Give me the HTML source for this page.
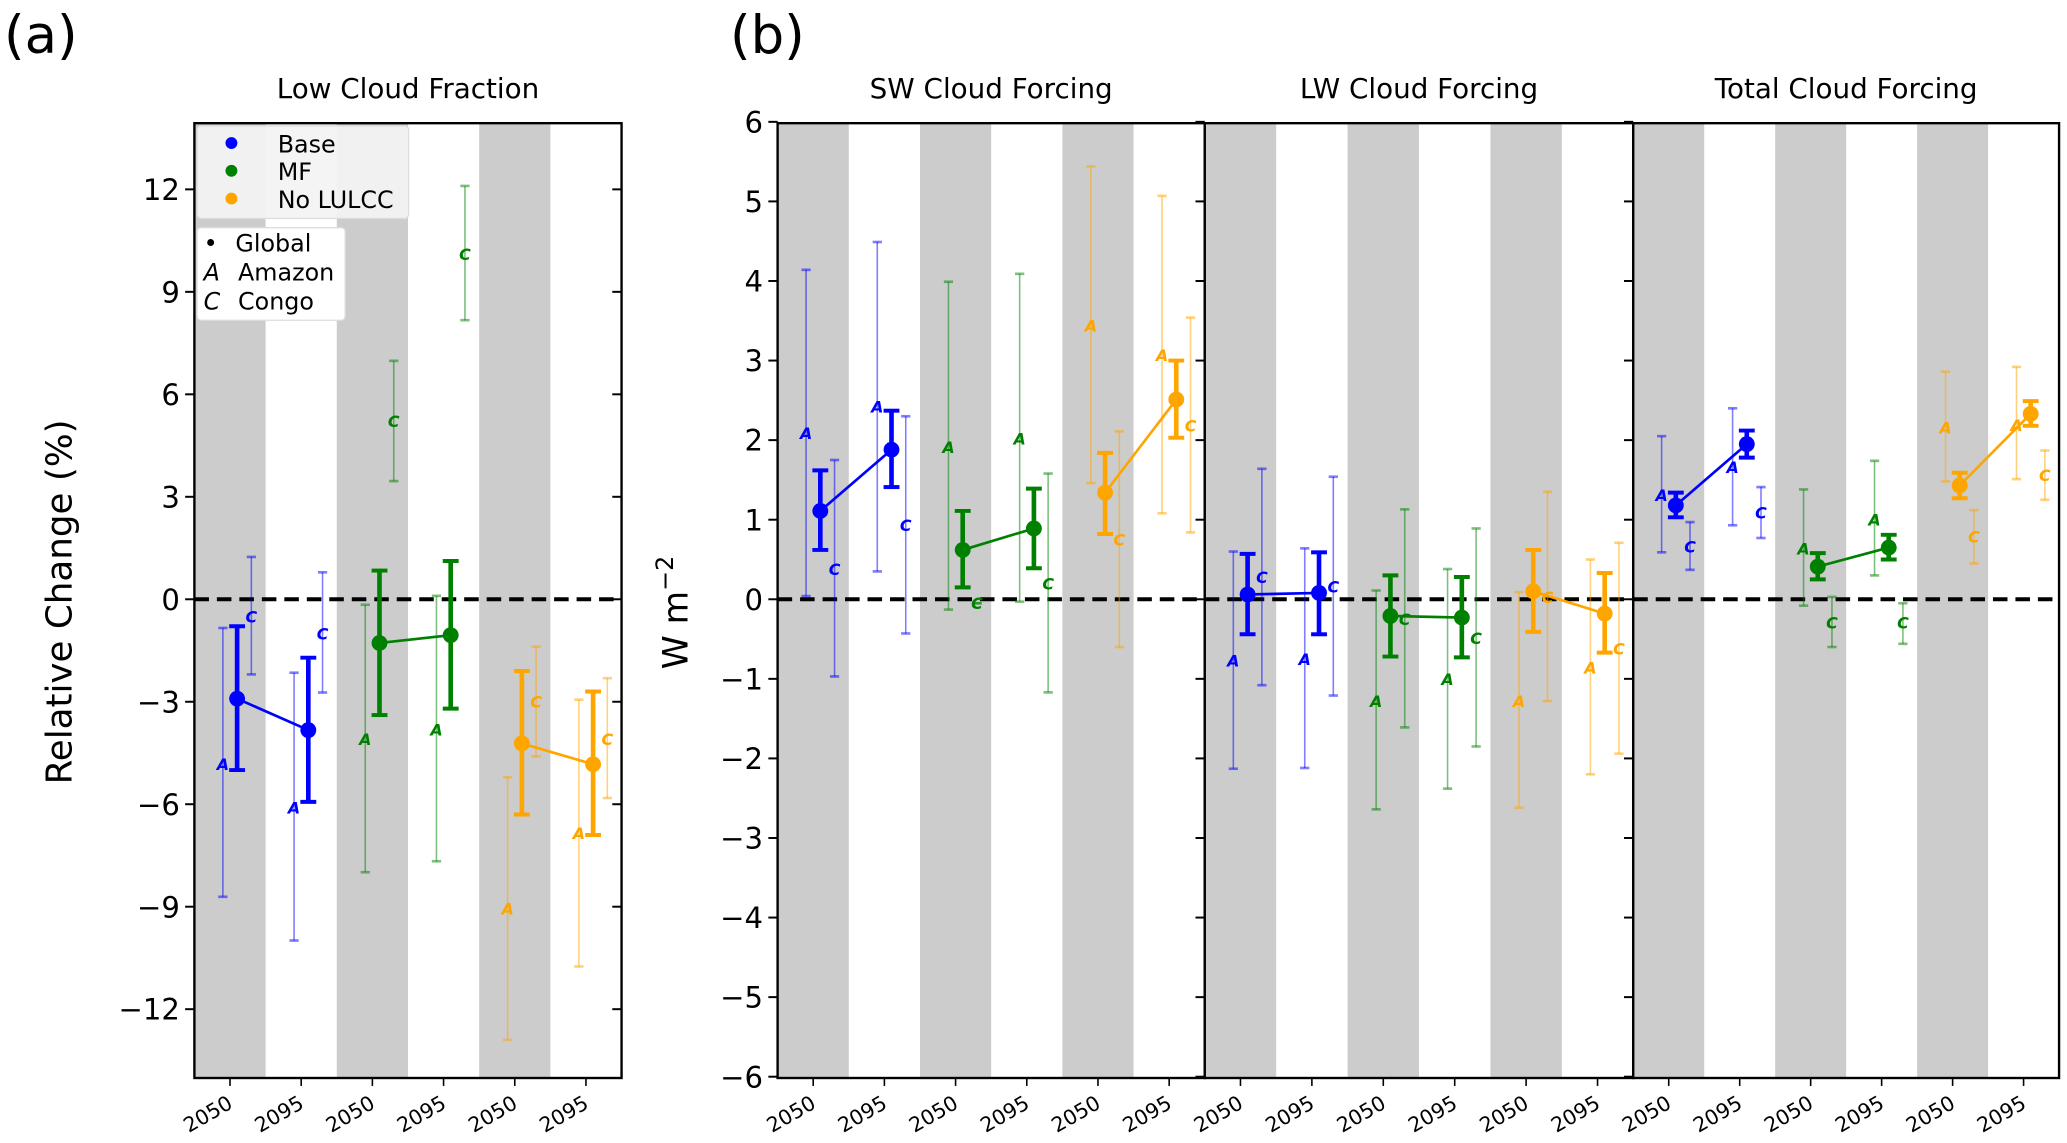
<!DOCTYPE html>
<html><head><meta charset="utf-8">
<style>
html,body{margin:0;padding:0;background:#fff;}
svg{display:block;font-family:"DejaVu Sans","Liberation Sans",sans-serif;}
</style></head>
<body>
<svg id="fig" width="2067" height="1143" viewBox="0 0 1563 864" xmlns="http://www.w3.org/2000/svg"></svg>
<script>
// Order: Base2050, Base2095, MF2050, MF2095, NoLULCC2050, NoLULCC2095
const xLabels = ['2050','2095','2050','2095','2050','2095'];
const scenarioColors = ['#0000ff','#0000ff','#008000','#008000','#ffa500','#ffa500'];
const yTicksA = [-12,-9,-6,-3,0,3,6,9,12];
const yTicksB = [-6,-5,-4,-3,-2,-1,0,1,2,3,4,5,6];

// Panel a: Low Cloud Fraction
const lcfG = [-2.91,-3.83,-1.28,-1.05,-4.22,-4.83];
const lcfGLo = [-5.0,-5.93,-3.39,-3.2,-6.3,-6.9];
const lcfGHi = [-0.79,-1.71,0.84,1.12,-2.10,-2.70];
const lcfA = [-4.83,-6.1,-4.09,-3.81,-9.06,-6.85];
const lcfALo = [-8.71,-9.99,-7.99,-7.67,-12.9,-10.75];
const lcfAHi = [-0.84,-2.15,-0.16,0.1,-5.21,-2.94];
const lcfC = [-0.50,-1.0,5.21,10.1,-2.99,-4.09];
const lcfCLo = [-2.20,-2.73,3.46,8.17,-4.6,-5.82];
const lcfCHi = [1.24,0.79,6.98,12.1,-1.39,-2.31];

// SW cloud forcing
const swG = [1.11,1.88,0.62,0.89,1.34,2.51];
const swGLo = [0.62,1.41,0.15,0.39,0.82,2.03];
const swGHi = [1.62,2.37,1.11,1.39,1.84,3.0];
const swA = [2.09,2.42,1.91,2.02,3.44,3.07];
const swALo = [0.04,0.35,-0.13,-0.03,1.46,1.08];
const swAHi = [4.14,4.49,3.99,4.09,5.44,5.07];
const swC = [0.38,0.93,-0.05,0.2,0.75,2.18];
const swCLo = [-0.97,-0.43,-0.05,-1.17,-0.60,0.84];
const swCHi = [1.75,2.30,-0.05,1.58,2.11,3.54];

// LW cloud forcing
const lwG = [0.06,0.08,-0.21,-0.23,0.1,-0.18];
const lwGLo = [-0.44,-0.44,-0.72,-0.73,-0.41,-0.67];
const lwGHi = [0.57,0.59,0.3,0.28,0.62,0.33];
const lwA = [-0.77,-0.75,-1.28,-1.0,-1.28,-0.86];
const lwALo = [-2.13,-2.12,-2.64,-2.38,-2.62,-2.2];
const lwAHi = [0.6,0.64,0.11,0.38,0.09,0.5];
const lwC = [0.28,0.16,-0.25,-0.49,0.03,-0.62];
const lwCLo = [-1.08,-1.21,-1.61,-1.85,-1.28,-1.94];
const lwCHi = [1.64,1.54,1.13,0.89,1.35,0.71];

// Total cloud forcing
const totG = [1.18,1.95,0.41,0.65,1.43,2.33];
const totGLo = [1.03,1.78,0.25,0.5,1.27,2.18];
const totGHi = [1.34,2.12,0.58,0.81,1.59,2.49];
const totA = [1.31,1.66,0.64,1.0,2.16,2.19];
const totALo = [0.59,0.93,-0.08,0.3,1.48,1.51];
const totAHi = [2.05,2.40,1.38,1.74,2.86,2.92];
const totC = [0.66,1.09,-0.29,-0.29,0.79,1.56];
const totCLo = [0.37,0.77,-0.6,-0.56,0.45,1.25];
const totCHi = [0.97,1.41,0.03,-0.05,1.12,1.87];

const NS='http://www.w3.org/2000/svg';
const svg=document.getElementById('fig');
function mk(tag,attrs,parent,txt){const e=document.createElementNS(NS,tag);for(const k in attrs)e.setAttribute(k,attrs[k]);if(txt!==undefined)e.textContent=txt;(parent||svg).appendChild(e);return e;}

const TOP=93, BOT=815, Y0=453;
function panel(cfg){
  const L=cfg.left, W=cfg.width, R=L+W;
  const slot=W/6;
  const xs=i=>L+(i+0.5)*slot;
  const ys=v=>Y0-cfg.ppu*v;
  const g=mk('g',{});
  
  
  for(let i=0;i<6;i+=2){
    const b=mk('rect',{x:L+i*slot,y:TOP,width:slot,height:BOT-TOP,fill:'#cccccc'},g);
    
    
  }
  const z=mk('line',{x1:L,x2:R,y1:ys(0),y2:ys(0),stroke:'#000','stroke-width':3,'stroke-dasharray':'11,6'},g);
  
  
  function ebar(x,lo,hi,val,col,thick,lbl){
    const gg=mk('g',{},g);
    
    
    const cw=thick?6:3.5;
    const op=thick?1:0.5;
    const sw=thick?3.5:1.2;
    mk('line',{x1:x,x2:x,y1:ys(lo),y2:ys(hi),stroke:col,'stroke-width':sw,opacity:op},gg);
    mk('line',{x1:x-cw,x2:x+cw,y1:ys(lo),y2:ys(lo),stroke:col,'stroke-width':thick?3:2,opacity:op},gg);
    mk('line',{x1:x-cw,x2:x+cw,y1:ys(hi),y2:ys(hi),stroke:col,'stroke-width':thick?3:2,opacity:op},gg);
    if(lbl){
      mk('text',{x:x,y:ys(val)+4.5,'font-size':12,'font-style':'italic','font-weight':'bold','text-anchor':'middle',fill:col},gg,lbl);
    } else {
      mk('circle',{cx:x,cy:ys(val),r:6,fill:col},gg);
    }
  }
  for(let i=0;i<6;i++){
    const c=scenarioColors[i];
    if(cfg.a[i]!=null) ebar(xs(i)-0.1*slot,cfg.aLo[i],cfg.aHi[i],cfg.a[i],c,false,'A');
    if(cfg.c[i]!=null) ebar(xs(i)+0.3*slot,cfg.cLo[i],cfg.cHi[i],cfg.c[i],c,false,'C');
  }
  for(let i=0;i<6;i+=2){
    const ln=mk('line',{x1:xs(i)+0.1*slot,y1:ys(cfg.g[i]),x2:xs(i+1)+0.1*slot,y2:ys(cfg.g[i+1]),stroke:scenarioColors[i],'stroke-width':2},g);
    
    
  }
  for(let i=0;i<6;i++) ebar(xs(i)+0.1*slot,cfg.gLo[i],cfg.gHi[i],cfg.g[i],scenarioColors[i],true,null);
  const fr=mk('rect',{x:L,y:TOP,width:W,height:BOT-TOP,fill:'none',stroke:'#000','stroke-width':1.8},g);
  
  
  for(let i=0;i<6;i++){
    mk('line',{x1:xs(i),x2:xs(i),y1:BOT,y2:BOT+6,stroke:'#000','stroke-width':1.2},g);
    const t=mk('text',{x:0,y:0,'font-size':15.5,'text-anchor':'end',transform:`translate(${xs(i)+3},${BOT+22}) rotate(-30)`},g,xLabels[i]);
    
    
  }
  for(const v of cfg.yticks){
    mk('line',{x1:L-7,x2:L,y1:ys(v),y2:ys(v),stroke:'#000','stroke-width':1.5},g);
    if(cfg.rightTicks) mk('line',{x1:R-7,x2:R,y1:ys(v),y2:ys(v),stroke:'#000','stroke-width':1.5},g);
    if(cfg.ylabels){
      const t=mk('text',{x:L-11,y:ys(v)+8,'font-size':22,'text-anchor':'end'},g,(v<0?'\u2212'+(-v):String(v)));
      
      
    }
  }
  const tt=mk('text',{x:L+W/2,y:74,'font-size':21,'text-anchor':'middle'},g,cfg.title);
  
  
}

panel({name:'panel-low-cloud-fraction',left:147,width:323,ppu:25.83,title:'Low Cloud Fraction',yticks:yTicksA,ylabels:true,rightTicks:true,
  g:lcfG,gLo:lcfGLo,gHi:lcfGHi,a:lcfA,aLo:lcfALo,aHi:lcfAHi,c:lcfC,cLo:lcfCLo,cHi:lcfCHi});
panel({name:'panel-sw-cloud-forcing',left:588,width:323,ppu:60.17,title:'SW Cloud Forcing',yticks:yTicksB,ylabels:true,rightTicks:false,
  g:swG,gLo:swGLo,gHi:swGHi,a:swA,aLo:swALo,aHi:swAHi,c:swC,cLo:swCLo,cHi:swCHi});
panel({name:'panel-lw-cloud-forcing',left:911,width:324,ppu:60.17,title:'LW Cloud Forcing',yticks:yTicksB,ylabels:false,rightTicks:false,
  g:lwG,gLo:lwGLo,gHi:lwGHi,a:lwA,aLo:lwALo,aHi:lwAHi,c:lwC,cLo:lwCLo,cHi:lwCHi});
panel({name:'panel-total-cloud-forcing',left:1235,width:322,ppu:60.17,title:'Total Cloud Forcing',yticks:yTicksB,ylabels:false,rightTicks:false,
  g:totG,gLo:totGLo,gHi:totGHi,a:totA,aLo:totALo,aHi:totAHi,c:totC,cLo:totCLo,cHi:totCHi});

let t=mk('text',{x:3,y:40,'font-size':40},svg,'(a)');


t=mk('text',{x:552,y:40,'font-size':40},svg,'(b)');


t=mk('text',{x:0,y:0,'font-size':27,'text-anchor':'middle',transform:'translate(54,455) rotate(-90)'},svg,'Relative Change (%)');


t=mk('text',{x:0,y:0,'font-size':26,'text-anchor':'middle',transform:'translate(520,463) rotate(-90)'},svg);


t.innerHTML='W m<tspan dy="-11" font-size="18">\u22122</tspan>';

const lg1=mk('g',{});


mk('rect',{x:149,y:95,width:160,height:70,rx:3,fill:'#f4f4f4',stroke:'#dddddd','stroke-width':1,opacity:0.95},lg1);
const legNames=['Base','MF','No LULCC'];
const legCols=['#0000ff','#008000','#ffa500'];
for(let i=0;i<3;i++){
  const e=mk('g',{},lg1);
  
  
  mk('circle',{cx:175,cy:108+i*21,r:4.5,fill:legCols[i]},e);
  mk('text',{x:210,y:115+i*21,'font-size':18},e,legNames[i]);
}
const lg2=mk('g',{});


mk('rect',{x:149,y:172,width:112,height:70,rx:3,fill:'#ffffff',stroke:'#dddddd','stroke-width':1},lg2);
const regSym=['\u2022','A','C'];
const regNames=['Global','Amazon','Congo'];
for(let i=0;i<3;i++){
  const e=mk('g',{},lg2);
  
  
  mk('text',{x:154,y:190+i*22,'font-size':18,'font-style':i?'italic':'normal'},e,regSym[i]);
  mk('text',{x:i?180:178,y:190+i*22,'font-size':18},e,regNames[i]);
}
</script>
</body></html>
